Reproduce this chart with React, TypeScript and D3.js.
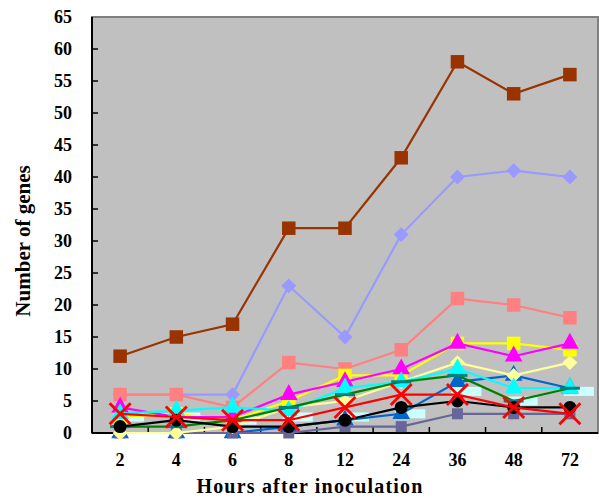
import React from "react";
import * as d3 from "d3";

const categories = ["2", "4", "6", "8", "12", "24", "36", "48", "72"];
const yTicks = [0, 5, 10, 15, 20, 25, 30, 35, 40, 45, 50, 55, 60, 65];

const brownVals = [12, 15, 17, 32, 32, 43, 58, 53, 56];
const periwinkleVals = [6, 6, 6, 23, 15, 31, 40, 41, 40];
const salmonVals = [6, 6, 4, 11, 10, 13, 21, 20, 18];
const yellowVals = [2.5, 3, 2, 5, 9, 9, 14, 14, 13];
const magentaVals = [4, 2.5, 2.5, 6, 8, 10, 14, 12, 14];
const cyanVals = [3, 3.5, 4, 3.5, 7, 8, 10, 7, 7];
const lightYellowVals = [0, 0, 1, 4, 5, 8, 11, 9, 11];
const greenVals = [1, 1, 2, 4, 6, 8, 9, 5, 7];
const redVals = [3, 2.5, 2, 2, 4, 6, 6, 4, 3];
const blackVals = [1, 2, 1, 1, 2, 4, 5, 4, 4];
const slateVals = [0, 0, 0, 0, 1, 1, 3, 3, 3];
const blueVals = [0, 0, 0, 1, 2, 3, 8, 9, 7];
const lightCyanVals = [2.5, 2.5, 2, 2.5, 2.5, 3, 6.5, 5, 6.5];

type Marker = "square" | "diamond" | "triangle" | "circle" | "x" | "dash" | "wide";
interface Series {
  values: number[];
  color: string;
  marker: Marker;
  markerColor: string;
  line: boolean;
}

const series: Series[] = [
  { values: lightCyanVals, color: "#ccffff", marker: "wide", markerColor: "#ccffff", line: false },
  { values: brownVals, color: "#993300", marker: "square", markerColor: "#993300", line: true },
  { values: periwinkleVals, color: "#9999ff", marker: "diamond", markerColor: "#9999ff", line: true },
  { values: salmonVals, color: "#ff8080", marker: "square", markerColor: "#ff8080", line: true },
  { values: blueVals, color: "#0066cc", marker: "triangle", markerColor: "#0066cc", line: true },
  { values: slateVals, color: "#666699", marker: "square", markerColor: "#666699", line: true },
  { values: lightYellowVals, color: "#ffff99", marker: "diamond", markerColor: "#ffff99", line: true },
  { values: yellowVals, color: "#ffff00", marker: "square", markerColor: "#ffff00", line: true },
  { values: magentaVals, color: "#ff00ff", marker: "triangle", markerColor: "#ff00ff", line: true },
  { values: cyanVals, color: "#00ffff", marker: "triangle", markerColor: "#00ffff", line: true },
  { values: greenVals, color: "#008000", marker: "dash", markerColor: "#008080", line: true },
  { values: blackVals, color: "#000000", marker: "circle", markerColor: "#000000", line: true },
  { values: redVals, color: "#ff0000", marker: "x", markerColor: "#ff0000", line: true },
];

const W = 599;
const H = 498;
const left = 92;
const right = 598;
const top = 17;
const bottom = 433;
const FONT = "'Liberation Serif', 'Times New Roman', serif";

export default function App() {
  const x = d3.scaleBand<string>().domain(categories).range([left, right]).padding(0);
  const y = d3.scaleLinear().domain([0, 65]).range([bottom, top]);
  const cx = (c: string) => (x(c) as number) + x.bandwidth() / 2;

  const lineGen = d3
    .line<number>()
    .x((_, i) => cx(categories[i]))
    .y((v) => y(v));

  const squarePath = d3.symbol().type(d3.symbolSquare).size(13.5 * 13.5)() as string;
  const smallSquarePath = d3.symbol().type(d3.symbolSquare).size(11 * 11)() as string;
  const diamondPath = d3.symbol().type(d3.symbolSquare).size(10.5 * 10.5)() as string;
  const trianglePath = d3.symbol().type(d3.symbolTriangle).size(80)() as string;
  const circlePath = d3.symbol().type(d3.symbolCircle).size(Math.PI * 6.5 * 6.5)() as string;

  const renderMarker = (s: Series, v: number, i: number) => {
    const px = cx(categories[i]);
    const py = y(v);
    const key = i;
    switch (s.marker) {
      case "square":
        return (
          <path key={key} d={s.color === "#666699" ? smallSquarePath : squarePath} transform={`translate(${px},${py})`} fill={s.markerColor} />
        );
      case "diamond":
        return <path key={key} d={diamondPath} transform={`translate(${px},${py}) rotate(45)`} fill={s.markerColor} />;
      case "triangle":
        return <path key={key} d={trianglePath} transform={`translate(${px},${py}) scale(1.3,1.35)`} fill={s.markerColor} />;
      case "circle":
        return <path key={key} d={circlePath} transform={`translate(${px},${py})`} fill={s.markerColor} />;
      case "x": {
        const r = 10.5;
        const p = d3.path();
        p.moveTo(-r, -r);
        p.lineTo(r, r);
        p.moveTo(-r, r);
        p.lineTo(r, -r);
        return (
          <path key={key} d={p.toString()} transform={`translate(${px},${py})`} stroke={s.markerColor} strokeWidth={2.8} fill="none" />
        );
      }
      case "dash":
        return <rect key={key} x={px - 10} y={py - 1.5} width={20} height={3} fill={s.markerColor} />;
      case "wide":
        return <rect key={key} x={px - 6} y={py - 4.5} width={30} height={9} fill={s.markerColor} />;
    }
    return null;
  };

  const boundaries = categories.slice(1).map((c) => x(c) as number);

  return (
    <svg width={W} height={H} style={{ display: "block", position: "absolute", left: 0, top: 0 }}>
      <rect x={0} y={0} width={W} height={H} fill="#ffffff" />
      <rect x={left} y={top} width={right - left} height={bottom - top} fill="#c0c0c0" stroke="#808080" strokeWidth={2} />

      {/* y ticks */}
      {yTicks.map((t) => (
        <g key={`yt${t}`}>
          {t > 0 && t < 65 && <line x1={left} x2={left + 6} y1={y(t)} y2={y(t)} stroke="#000" strokeWidth={1.5} />}
          <text
            x={72}
            y={y(t)}
            dy="0.35em"
            textAnchor="end"
            fontFamily={FONT}
            fontWeight="bold"
            fontSize={18}
            fill="#000"
          >
            {t}
          </text>
        </g>
      ))}

      {/* x ticks */}
      {boundaries.map((b, i) => (
        <line key={`xt${i}`} x1={b} x2={b} y1={bottom} y2={bottom - 6} stroke="#000" strokeWidth={1.5} />
      ))}
      {categories.map((c) => (
        <text key={`xl${c}`} x={cx(c)} y={466} textAnchor="middle" fontFamily={FONT} fontWeight="bold" fontSize={18} fill="#000">
          {c}
        </text>
      ))}

      {/* axes */}
      <line x1={left} x2={left} y1={top} y2={bottom} stroke="#000" strokeWidth={2} />
      <line x1={left} x2={right} y1={bottom} y2={bottom} stroke="#000" strokeWidth={2} />

      {/* series */}
      {series.map((s, si) => (
        <g key={`s${si}`}>
          {s.line && <path d={lineGen(s.values) as string} fill="none" stroke={s.color} strokeWidth={2.2} />}
          {s.values.map((v, i) => renderMarker(s, v, i))}
        </g>
      ))}

      {/* titles */}
      <text x={310} y={493} textAnchor="middle" fontFamily={FONT} fontWeight="bold" fontSize={20} letterSpacing={1.2} fill="#000">
        Hours after inoculation
      </text>
      <text
        transform={`translate(30,241) rotate(-90)`}
        textAnchor="middle"
        fontFamily={FONT}
        fontWeight="bold"
        fontSize={21}
        fill="#000"
      >
        Number of genes
      </text>
    </svg>
  );
}
